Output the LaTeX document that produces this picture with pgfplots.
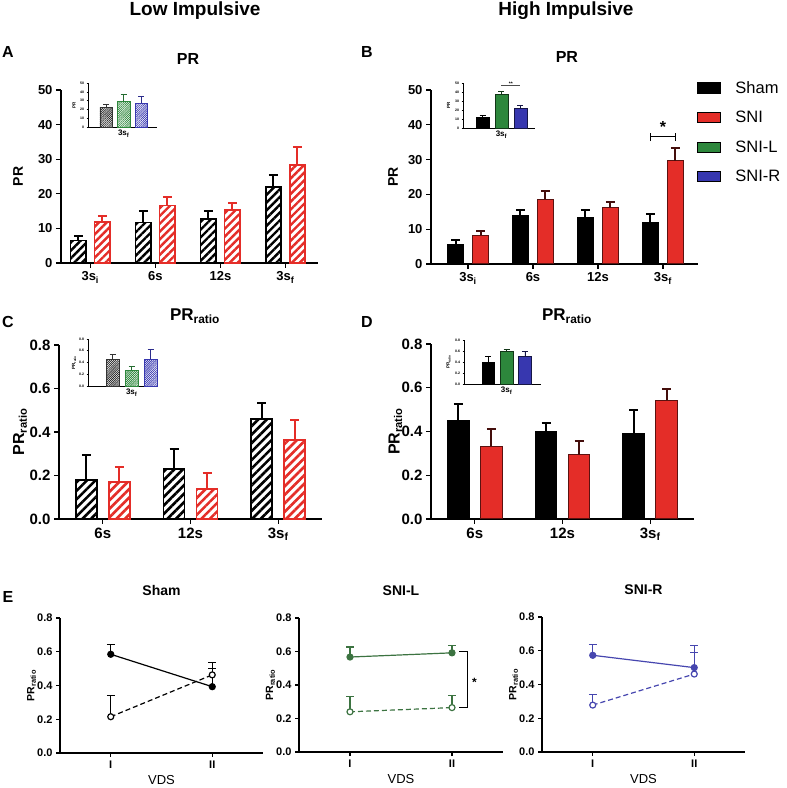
\documentclass[border=0pt]{standalone}
\usepackage{fontspec}
\setmainfont{Liberation Sans}
\usepackage{pgfplots}
\pgfplotsset{compat=1.18}
\usetikzlibrary{patterns.meta}

\definecolor{snired}{RGB}{228,45,40}
\definecolor{snigreen}{RGB}{45,135,60}
\definecolor{sniblue}{RGB}{55,55,175}
\definecolor{linegreen}{RGB}{60,115,65}
\definecolor{lineblue}{RGB}{70,70,175}

\pgfplotsset{
  panel/.style={scale only axis, anchor=south west, axis lines=left,
    axis line style={-, line width=1.3pt}, tick align=outside,
    major tick length=5pt, tick style={black, line width=1.3pt},
    clip=false, ymin=0,
    /pgf/number format/assume math mode=true,
    ticklabel style={font=\fontsize{13}{15}\selectfont\bfseries},
    title style={font=\fontsize{16}{18}\selectfont\bfseries, anchor=center},
    ylabel style={font=\fontsize{14}{16}\selectfont\bfseries, anchor=center}},
  ratio/.style={ymax=0.8, ytick={0,0.2,0.4,0.6,0.8},
    yticklabel style={/pgf/number format/.cd, fixed, fixed zerofill, precision=1},
    ticklabel style={font=\fontsize{15}{17}\selectfont\bfseries},
    title style={font=\fontsize{17}{19}\selectfont\bfseries},
    ylabel style={font=\fontsize{16}{18}\selectfont\bfseries},
    xmin=-0.5, xmax=2.5, xtick={0,1,2},
    xticklabels={6s, 12s, 3s\textsubscript{f}}},
  errB/.style={error bars/.cd, y dir=plus, y explicit,
    error bar style={line width=2pt, #1},
    error mark options={rotate=90, line width=2pt, mark size=4.5pt, #1}},
  inset/.style={scale only axis, anchor=south west, axis lines=left,
    axis line style={-, line width=0.6pt}, tick align=outside,
    major tick length=1.5pt, tick style={black, line width=0.5pt},
    xtick style={draw=none}, clip=false, ymin=0, xtick={1},
    xticklabels={3s\textsubscript{f}},
    /pgf/number format/assume math mode=true,
    x tick label style={font=\fontsize{8}{9}\selectfont\bfseries, yshift=2pt},
    y tick label style={font=\fontsize{3.5}{4}\selectfont\bfseries, xshift=1pt},
    ylabel style={font=\fontsize{4.5}{5}\selectfont\bfseries, anchor=center,
      at={(axis description cs:-0.2,0.5)}}},
  errI/.style={error bars/.cd, y dir=plus, y explicit,
    error bar style={line width=0.8pt, #1},
    error mark options={rotate=90, line width=0.8pt, mark size=3pt, #1}},
  epanel/.style={scale only axis, anchor=south west, axis lines=left,
    axis line style={-, line width=1.1pt}, tick align=outside,
    major tick length=4pt, tick style={black, line width=1.1pt},
    clip=false, ymin=0, ymax=0.8, ytick={0,0.2,0.4,0.6,0.8},
    xmin=0.5, xmax=2.5, xtick={1,2}, xticklabels={I,II},
    /pgf/number format/assume math mode=true,
    yticklabel style={/pgf/number format/.cd, fixed, fixed zerofill, precision=1},
    ticklabel style={font=\fontsize{11}{13}\selectfont\bfseries},
    title style={font=\fontsize{14}{16}\selectfont\bfseries, anchor=center,
      at={(axis description cs:0.5,1.156)}},
    xlabel={VDS},
    xlabel style={font=\fontsize{13}{15}\selectfont, anchor=center,
      at={(axis description cs:0.5,-0.2)}},
    ylabel={PR\textsubscript{ratio}},
    ylabel style={font=\fontsize{10.5}{12}\selectfont\bfseries, anchor=center,
      at={(axis description cs:-0.14,0.5)}}},
  errE/.style={error bars/.cd, y dir=plus, y explicit,
    error bar style={line width=1.1pt, solid},
    error mark options={rotate=90, line width=1.1pt, mark size=4pt, solid}},
  legbox/.style={legend image code/.code={
    \draw[##1, draw=black, line width=1.2pt] (0pt,-5pt) rectangle (23pt,5pt);}},
}

\begin{document}
\begin{tikzpicture}[x=1pt,y=1pt]
\useasboundingbox (0pt,0pt) rectangle (787pt,788pt);

\node[font=\fontsize{19}{21}\selectfont\bfseries] at (195pt,777pt) {Low Impulsive};
\node[font=\fontsize{19}{21}\selectfont\bfseries] at (566pt,777pt) {High Impulsive};
\node[font=\fontsize{16}{18}\selectfont\bfseries] at (8pt,736pt) {A};
\node[font=\fontsize{16}{18}\selectfont\bfseries] at (367pt,736pt) {B};
\node[font=\fontsize{16}{18}\selectfont\bfseries] at (8pt,466pt) {C};
\node[font=\fontsize{16}{18}\selectfont\bfseries] at (367pt,466pt) {D};
\node[font=\fontsize{16}{18}\selectfont\bfseries] at (8pt,191pt) {E};

% ---- A: low impulsive, PR
\begin{axis}[panel, ybar=8.5pt, bar width=15.5pt, at={(61pt,525pt)}, width=257pt, height=173pt,
  xmin=-0.45, xmax=3.5, ymax=50, ytick={0,10,20,30,40,50},
  xtick={0,1,2,3}, xticklabels={3s\textsubscript{i}, 6s, 12s, 3s\textsubscript{f}},
  title=PR, title style={at={(axis description cs:0.494,1.144)}},
  ylabel=PR, ylabel style={at={(axis description cs:-0.167,0.5)}}]
\addplot[draw=black, line width=1.6pt,
  pattern={Lines[angle=45,distance=5.5pt,line width=2.4pt]}, pattern color=black, errB=black]
  coordinates {(0,6.5)+-(0,1.2) (1,11.7)+-(0,3.4) (2,12.8)+-(0,2.3) (3,21.9)+-(0,3.4)};
\addplot[draw=snired, line width=1.6pt,
  pattern={Lines[angle=45,distance=5.5pt,line width=2.4pt]}, pattern color=snired, errB=snired]
  coordinates {(0,11.8)+-(0,1.8) (1,16.6)+-(0,2.4) (2,15.4)+-(0,1.9) (3,28.4)+-(0,5.0)};
\end{axis}

\begin{axis}[inset, at={(88pt,661pt)}, width=69pt, height=44pt,
  xmin=-1.03, xmax=2.89, ymax=50, ytick={0,10,20,30,40,50}, ylabel=PR]
\addplot[ybar, bar width=12.5pt, bar shift=0pt, draw=black!80, line width=0.5pt,
  pattern={Lines[angle=45,distance=1.5pt,line width=0.75pt]}, pattern color=black!85, errI=black!80]
  coordinates {(0,22.5)+-(0,3)};
\addplot[ybar, bar width=12.5pt, bar shift=0pt, draw=snigreen, line width=0.5pt,
  pattern={Lines[angle=45,distance=1.5pt,line width=0.75pt]}, pattern color=snigreen, errI=snigreen!80!black]
  coordinates {(1,29)+-(0,8)};
\addplot[ybar, bar width=12.5pt, bar shift=0pt, draw=sniblue, line width=0.5pt,
  pattern={Lines[angle=45,distance=1.5pt,line width=0.75pt]}, pattern color=sniblue, errI=sniblue!80!black]
  coordinates {(2,27)+-(0,8)};
\end{axis}

% ---- B: high impulsive, PR
\begin{axis}[panel, ybar=9pt, bar width=16pt, at={(431pt,524pt)}, width=267pt, height=174pt,
  xmin=-0.57, xmax=3.54, ymax=50, ytick={0,10,20,30,40,50},
  xtick={0,1,2,3}, xticklabels={3s\textsubscript{i}, 6s, 12s, 3s\textsubscript{f}},
  title=PR, title style={at={(axis description cs:0.509,1.155)}},
  ylabel=PR, ylabel style={at={(axis description cs:-0.142,0.5)}}]
\addplot[fill=black, draw=black, line width=1pt, errB=black]
  coordinates {(0,5.5)+-(0,1.3) (1,13.8)+-(0,1.7) (2,13.3)+-(0,2.2) (3,11.9)+-(0,2.6)};
\addplot[fill=snired, draw=black!60!snired, line width=1pt, errB=black!70!snired]
  coordinates {(0,8.3)+-(0,1.1) (1,18.6)+-(0,2.4) (2,16.2)+-(0,1.7) (3,29.7)+-(0,3.6)};
\draw[line width=1pt] (axis cs:2.81,35.3) -- (axis cs:2.81,37.7)
  (axis cs:2.81,36.5) -- (axis cs:3.19,36.5)
  (axis cs:3.19,35.3) -- (axis cs:3.19,37.7);
\node[font=\fontsize{16}{18}\selectfont\bfseries] at (axis cs:3,39.5) {*};
\end{axis}

% legend of the whole figure
\begin{axis}[at={(697pt,699pt)}, anchor=south west, hide axis, scale only axis,
  width=10pt, height=10pt, xmin=0, xmax=1, ymin=0, ymax=1,
  legend style={at={(0,1)}, anchor=north west, draw=none, fill=none, inner sep=0pt,
    font=\fontsize{16.5}{18}\selectfont, row sep=12.5pt,
    /tikz/every odd column/.append style={column sep=12pt}},
  legend cell align=left]
\addlegendimage{legbox, fill=black}
\addlegendentry{Sham}
\addlegendimage{legbox, fill=snired}
\addlegendentry{SNI}
\addlegendimage{legbox, fill=snigreen}
\addlegendentry{SNI-L}
\addlegendimage{legbox, fill=sniblue}
\addlegendentry{SNI-R}
\end{axis}

\begin{axis}[inset, at={(463pt,660pt)}, width=72pt, height=45pt,
  xmin=-1.03, xmax=2.77, ymax=50, ytick={0,10,20,30,40,50}, ylabel=PR]
\addplot[ybar, bar width=13pt, bar shift=0pt, fill=black, draw=black, line width=0.4pt, errI=black]
  coordinates {(0,12)+-(0,2.3)};
\addplot[ybar, bar width=13pt, bar shift=0pt, fill=snigreen, draw=black!60!snigreen, line width=0.4pt, errI=black!60!snigreen]
  coordinates {(1,37.5)+-(0,3.5)};
\addplot[ybar, bar width=13pt, bar shift=0pt, fill=sniblue, draw=black!60!sniblue, line width=0.4pt, errI=black!60!sniblue]
  coordinates {(2,22.5)+-(0,3)};
\draw[line width=0.4pt, black!70] (axis cs:1,47.5) -- (axis cs:2,47.5);
\node[font=\fontsize{5}{5}\selectfont\bfseries, inner sep=0pt] at (axis cs:1.5,49.5) {**};
\end{axis}

% ---- C: low impulsive, PR ratio
\begin{axis}[panel, ratio, ybar=12pt, bar width=21pt, at={(59pt,269pt)}, width=263pt, height=174pt,
  title={PR\textsubscript{ratio}}, title style={at={(axis description cs:0.517,1.13)}},
  ylabel={PR\textsubscript{ratio}}, ylabel style={at={(axis description cs:-0.148,0.5)}}]
\addplot[draw=black, line width=1.6pt,
  pattern={Lines[angle=45,distance=6pt,line width=2.6pt]}, pattern color=black, errB=black]
  coordinates {(0,0.178)+-(0,0.115) (1,0.23)+-(0,0.093) (2,0.46)+-(0,0.075)};
\addplot[draw=snired, line width=1.6pt,
  pattern={Lines[angle=45,distance=6pt,line width=2.6pt]}, pattern color=snired, errB=snired]
  coordinates {(0,0.17)+-(0,0.067) (1,0.137)+-(0,0.075) (2,0.362)+-(0,0.095)};
\end{axis}

\begin{axis}[inset, at={(88pt,402pt)}, width=69pt, height=47pt,
  xmin=-1.3, xmax=2.33, ymax=0.8, ytick={0,0.2,0.4,0.6,0.8},
  yticklabel style={/pgf/number format/.cd, fixed, fixed zerofill, precision=1},
  ylabel={PR\textsubscript{ratio}}]
\addplot[ybar, bar width=13pt, bar shift=0pt, draw=black!80, line width=0.5pt,
  pattern={Lines[angle=45,distance=1.5pt,line width=0.75pt]}, pattern color=black!85, errI=black!80]
  coordinates {(0,0.457)+-(0,0.08)};
\addplot[ybar, bar width=13pt, bar shift=0pt, draw=snigreen, line width=0.5pt,
  pattern={Lines[angle=45,distance=1.5pt,line width=0.75pt]}, pattern color=snigreen, errI=snigreen!80!black]
  coordinates {(1,0.27)+-(0,0.067)};
\addplot[ybar, bar width=13pt, bar shift=0pt, draw=sniblue, line width=0.5pt,
  pattern={Lines[angle=45,distance=1.5pt,line width=0.75pt]}, pattern color=sniblue, errI=sniblue!80!black]
  coordinates {(2,0.457)+-(0,0.163)};
\end{axis}

% ---- D: high impulsive, PR ratio
\begin{axis}[panel, ratio, ybar=11.5pt, bar width=21.5pt, at={(431pt,269pt)}, width=263pt, height=175pt,
  title={PR\textsubscript{ratio}}, title style={at={(axis description cs:0.517,1.125)}},
  ylabel={PR\textsubscript{ratio}}, ylabel style={at={(axis description cs:-0.135,0.5)}}]
\addplot[fill=black, draw=black, line width=1pt, errB=black]
  coordinates {(0,0.45)+-(0,0.075) (1,0.40)+-(0,0.04) (2,0.39)+-(0,0.11)};
\addplot[fill=snired, draw=black!60!snired, line width=1pt, errB=black!70!snired]
  coordinates {(0,0.333)+-(0,0.077) (1,0.293)+-(0,0.064) (2,0.543)+-(0,0.05)};
\end{axis}

\begin{axis}[inset, at={(464pt,404pt)}, width=77pt, height=44pt,
  xmin=-1.31, xmax=2.87, ymax=0.8, ytick={0,0.2,0.4,0.6,0.8},
  yticklabel style={/pgf/number format/.cd, fixed, fixed zerofill, precision=1},
  ylabel={PR\textsubscript{ratio}}]
\addplot[ybar, bar width=12.6pt, bar shift=0pt, fill=black, draw=black, line width=0.4pt, errI=black]
  coordinates {(0,0.39)+-(0,0.12)};
\addplot[ybar, bar width=12.6pt, bar shift=0pt, fill=snigreen, draw=black!60!snigreen, line width=0.4pt, errI=black!60!snigreen]
  coordinates {(1,0.589)+-(0,0.04)};
\addplot[ybar, bar width=12.6pt, bar shift=0pt, fill=sniblue, draw=black!60!sniblue, line width=0.4pt, errI=black!60!sniblue]
  coordinates {(2,0.5)+-(0,0.089)};
\end{axis}

% ---- E: VDS lines
\begin{axis}[epanel, at={(60pt,35pt)}, width=203pt, height=135pt, title=Sham]
\addplot[black, line width=1.2pt, mark=*, mark size=3pt, errE]
  coordinates {(1,0.585)+-(0,0.06) (2,0.393)+-(0,0.107)};
\addplot[black, line width=1.2pt, dash pattern=on 5pt off 3pt, mark=*, mark size=3pt,
  mark options={solid, fill=white}, errE]
  coordinates {(1,0.215)+-(0,0.125) (2,0.463)+-(0,0.072)};
\end{axis}

\begin{axis}[epanel, at={(299pt,36pt)}, width=204pt, height=134pt, title=SNI-L]
\addplot[linegreen, line width=1.2pt, mark=*, mark size=3pt, errE]
  coordinates {(1,0.567)+-(0,0.06) (2,0.592)+-(0,0.043)};
\addplot[linegreen, line width=1.2pt, dash pattern=on 5pt off 3pt, mark=*, mark size=3pt,
  mark options={solid, fill=white}, errE]
  coordinates {(1,0.24)+-(0,0.09) (2,0.265)+-(0,0.07)};
\draw[line width=1.1pt] (axis cs:2.07,0.6) -- (axis cs:2.15,0.6) -- (axis cs:2.15,0.265) -- (axis cs:2.07,0.265);
\node[font=\fontsize{12}{14}\selectfont\bfseries] at (axis cs:2.22,0.415) {*};
\end{axis}

\begin{axis}[epanel, at={(542pt,36pt)}, width=203pt, height=135pt, title=SNI-R]
\addplot[lineblue, line width=1.2pt, mark=*, mark size=3pt, errE]
  coordinates {(1,0.573)+-(0,0.064) (2,0.5)+-(0,0.132)};
\addplot[lineblue, line width=1.2pt, dash pattern=on 5pt off 3pt, mark=*, mark size=3pt,
  mark options={solid, fill=white}, errE]
  coordinates {(1,0.278)+-(0,0.062) (2,0.462)+-(0,0.125)};
\end{axis}
\end{tikzpicture}
\end{document}
